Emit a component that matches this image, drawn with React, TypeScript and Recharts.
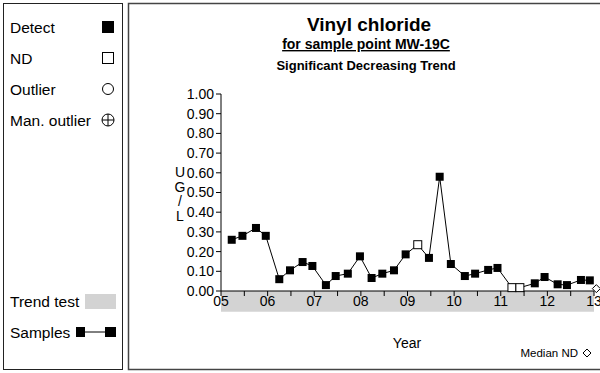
import { ComposedChart, Line, XAxis, YAxis, ReferenceArea, ReferenceDot } from "recharts";

// sample dates (decimal years) and results, UG/L
const sampleYears = [
  2005.23, 2005.46, 2005.75, 2005.96, 2006.25, 2006.48, 2006.75, 2006.96,
  2007.25, 2007.46, 2007.72, 2007.98, 2008.23, 2008.46, 2008.71, 2008.96,
  2009.22, 2009.46, 2009.69, 2009.93, 2010.23, 2010.45, 2010.73, 2010.93,
  2011.24, 2011.41, 2011.73, 2011.94, 2012.22, 2012.42, 2012.72, 2012.91,
];
const sampleValues = [
  0.26, 0.28, 0.32, 0.28, 0.06, 0.105, 0.147, 0.127,
  0.03, 0.076, 0.088, 0.176, 0.066, 0.088, 0.105, 0.186,
  0.235, 0.168, 0.58, 0.137, 0.076, 0.088, 0.107, 0.117,
  0.017, 0.017, 0.039, 0.071, 0.034, 0.03, 0.056, 0.054,
];
// true = non-detect
const nonDetect = [
  false, false, false, false, false, false, false, false,
  false, false, false, false, false, false, false, false,
  true, false, false, false, false, false, false, false,
  true, true, false, false, false, false, false, false,
];
const medianNdYear = [2013.05];
const medianNdValue = [0.012];

const trendStart = 2005;
const trendEnd = 2013;

const xTicks = [
  2005, 2005.5, 2006, 2006.5, 2007, 2007.5, 2008, 2008.5, 2009,
  2009.5, 2010, 2010.5, 2011, 2011.5, 2012, 2012.5, 2013,
];
const yTicks = [0, 0.1, 0.2, 0.3, 0.4, 0.5, 0.6, 0.7, 0.8, 0.9, 1.0];

const legendLabels = ["Detect", "ND", "Outlier", "Man. outlier"];

const FONT = "'Liberation Sans', Arial, sans-serif";

const data = sampleYears.map((year, i) => ({
  year,
  value: sampleValues[i],
  nd: nonDetect[i],
}));

function SampleDot(props: any) {
  const { cx, cy, payload } = props;
  if (cx == null || cy == null) return null;
  const s = 8;
  return payload.nd ? (
    <rect x={cx - s / 2} y={cy - s / 2} width={s} height={s} fill="#fff" stroke="#000" strokeWidth={1} />
  ) : (
    <rect x={cx - s / 2} y={cy - s / 2} width={s} height={s} fill="#000" />
  );
}

function Diamond(props: any) {
  const { cx, cy } = props;
  const r = 4;
  return (
    <path
      d={`M${cx},${cy - r}L${cx + r},${cy}L${cx},${cy + r}L${cx - r},${cy}Z`}
      fill="#fff"
      stroke="#000"
      strokeWidth={1}
    />
  );
}

function LegendPanel() {
  const rows = [27, 58, 89, 120];
  const mx = 108;
  return (
    <g fontFamily={FONT} fontSize={15.5} fill="#000">
      <rect x={3.5} y={3.5} width={119} height={366} fill="#fff" stroke="#222" />
      {legendLabels.map((label, i) => (
        <text key={label} x={10} y={rows[i]} dominantBaseline="central">
          {label}
        </text>
      ))}
      <rect x={mx - 6} y={rows[0] - 6} width={12} height={12} fill="#000" />
      <rect x={mx - 5.5} y={rows[1] - 5.5} width={11} height={11} fill="#fff" stroke="#000" />
      <circle cx={mx} cy={rows[2]} r={5.5} fill="#fff" stroke="#000" />
      <circle cx={mx} cy={rows[3]} r={6} fill="none" stroke="#000" />
      <line x1={mx - 6} y1={rows[3]} x2={mx + 6} y2={rows[3]} stroke="#000" />
      <line x1={mx} y1={rows[3] - 6} x2={mx} y2={rows[3] + 6} stroke="#000" />
      <text x={10} y={301} dominantBaseline="central">Trend test</text>
      <rect x={85} y={294} width={31} height={15} fill="#d3d3d3" />
      <text x={10} y={332} dominantBaseline="central">Samples</text>
      <line x1={80} y1={332} x2={110} y2={332} stroke="#000" />
      <rect x={76} y={327} width={9} height={10} fill="#000" />
      <rect x={105} y={327} width={11} height={10} fill="#000" />
    </g>
  );
}

export default function App() {
  return (
    <div style={{ position: "absolute", left: 0, top: 0, width: 600, height: 373, background: "#fff" }}>
      <svg width={600} height={373} style={{ position: "absolute", left: 0, top: 0 }}>
        <LegendPanel />
        <rect x={128.5} y={3.5} width={480} height={366} fill="#fff" stroke="#444" strokeWidth={1.5} />
      </svg>
      <div style={{ position: "absolute", left: 0, top: 0 }}>
        <ComposedChart
          width={600}
          height={373}
          data={data}
          margin={{ top: 94, right: 6, bottom: 62, left: 181 }}
        >
          <ReferenceArea
            x1={trendStart}
            x2={trendEnd}
            y1={-0.105}
            y2={0}
            ifOverflow="visible"
            fill="#d3d3d3"
            fillOpacity={1}
            stroke="none"
          />
          <XAxis
            type="number"
            dataKey="year"
            domain={[2005, 2013]}
            ticks={xTicks}
            interval={0}
            tickFormatter={(v: number) => (Number.isInteger(v) ? String(v).slice(2) : "")}
            tick={{ fill: "#000", fontSize: 14, fontFamily: FONT }}
            tickSize={5}
            tickMargin={0}
            height={20}
            axisLine={{ stroke: "#000" }}
            tickLine={{ stroke: "#000" }}
          />
          <YAxis
            type="number"
            domain={[0, 1]}
            ticks={yTicks}
            interval={0}
            tickFormatter={(v: number) => v.toFixed(2)}
            tick={{ fill: "#000", fontSize: 14, fontFamily: FONT }}
            tickSize={5}
            width={40}
            axisLine={{ stroke: "#000" }}
            tickLine={{ stroke: "#000" }}
          />
          <Line
            type="linear"
            dataKey="value"
            stroke="#000"
            strokeWidth={1}
            dot={(p: any) => <SampleDot key={p.index} {...p} />}
            activeDot={false}
            isAnimationActive={false}
          />
          {medianNdYear.map((yr, i) => (
            <ReferenceDot
              key={yr}
              x={yr}
              y={medianNdValue[i]}
              ifOverflow="visible"
              shape={Diamond}
            />
          ))}
        </ComposedChart>
      </div>
      <svg width={600} height={373} style={{ position: "absolute", left: 0, top: 0, pointerEvents: "none" }}>
        <g fontFamily={FONT} fill="#000" textAnchor="middle">
          <text x={369} y={31} fontSize={19} fontWeight="bold">Vinyl chloride</text>
          <text x={366} y={49} fontSize={14} fontWeight="bold" textDecoration="underline">
            for sample point MW-19C
          </text>
          <text x={366} y={70} fontSize={13} fontWeight="bold">Significant Decreasing Trend</text>
          <text x={407} y={348} fontSize={14}>Year</text>
          {["U", "G", "/", "L"].map((c, i) => (
            <text key={i} x={180} y={177 + i * 14.5} fontSize={14}>{c}</text>
          ))}
        </g>
        <text x={578} y={357} fontFamily={FONT} fontSize={11.5} textAnchor="end">Median ND</text>
        <path d="M587,349L591,353L587,357L583,353Z" fill="#fff" stroke="#000" />
      </svg>
    </div>
  );
}
